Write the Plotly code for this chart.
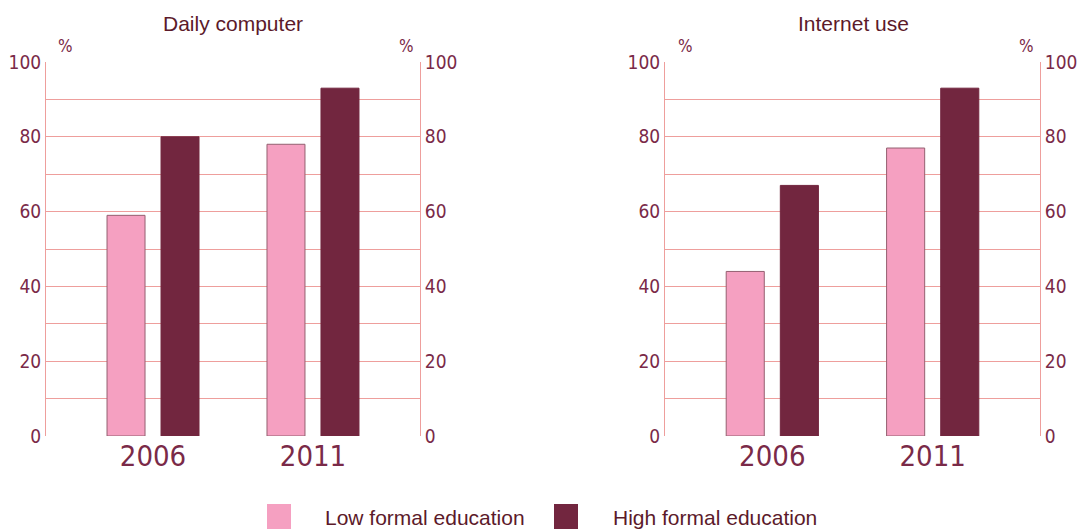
import plotly.graph_objects as go

years = ["2006", "2011"]
x_pos = [0, 1]
daily_low = [59, 78]
daily_high = [80, 93]
internet_low = [44, 77]
internet_high = [67, 93]
titles = ["Daily computer", "Internet use"]
series_names = ["Low formal education", "High formal education"]
y_ticks = [0, 20, 40, 60, 80, 100]

PINK = "#F5A0C1"
DARK = "#72263F"
GRID = "#EE9E9C"
TXT = "#7A2A48"
TITLE = "#5C1A2A"
NARROW = "Liberation Sans Narrow, DejaVu Sans Condensed, sans-serif"
SANS = "Arial, Liberation Sans, sans-serif"

fig = go.Figure()

def add_bars(xa, ya, low, high):
    fig.add_trace(go.Bar(x=x_pos, y=low, width=0.2375, offset=-0.2875,
                         marker=dict(color=PINK, line=dict(color="#946070", width=1)),
                         xaxis=xa, yaxis=ya, showlegend=False, name=series_names[0]))
    fig.add_trace(go.Bar(x=x_pos, y=high, width=0.2375, offset=0.05,
                         marker=dict(color=DARK, line=dict(color=DARK, width=1)),
                         xaxis=xa, yaxis=ya, showlegend=False, name=series_names[1]))

add_bars("x", "y", daily_low, daily_high)
add_bars("x2", "y3", internet_low, internet_high)
fig.add_trace(go.Scatter(x=[None], y=[None], xaxis="x", yaxis="y2", showlegend=False, hoverinfo="skip"))
fig.add_trace(go.Scatter(x=[None], y=[None], xaxis="x2", yaxis="y4", showlegend=False, hoverinfo="skip"))

dom_l = [46 / 1078, 420 / 1078]
dom_r = [665 / 1078, 1040 / 1078]
ydom = [1 - 436 / 529, 1 - 62 / 529]

xcommon = dict(range=[-0.669, 1.669], tickvals=x_pos, ticktext=years, showgrid=False,
               zeroline=False, showline=False, ticks="", automargin=False,
               tickfont=dict(family=NARROW, size=29, color=TXT), fixedrange=True)
ycommon = dict(range=[0, 100], tickvals=y_ticks, showgrid=True, gridcolor=GRID, gridwidth=1,
               minor=dict(dtick=10, showgrid=True, gridcolor=GRID, gridwidth=1),
               zeroline=False, showline=True, linecolor=GRID, linewidth=1, ticks="",
               automargin=False, tickfont=dict(family=NARROW, size=19, color=TXT))

fig.update_layout(
    width=1078, height=529, margin=dict(l=0, r=0, t=0, b=0, autoexpand=False),
    paper_bgcolor="white", plot_bgcolor="white", barmode="overlay",
    xaxis=dict(domain=dom_l, anchor="y", **xcommon),
    xaxis2=dict(domain=dom_r, anchor="y3", **xcommon),
    yaxis=dict(domain=ydom, anchor="x", side="left", **ycommon),
    yaxis2=dict(domain=ydom, anchor="x", overlaying="y", side="right", **ycommon),
    yaxis3=dict(domain=ydom, anchor="x2", side="left", **ycommon),
    yaxis4=dict(domain=ydom, anchor="x2", overlaying="y3", side="right", **ycommon),
)

ann = []
for t, cx in zip(titles, [233 / 1078, 853 / 1078]):
    ann.append(dict(text=t, x=cx, y=1 - 24 / 529, xref="paper", yref="paper", showarrow=False,
                    xanchor="center", yanchor="middle",
                    font=dict(family=SANS, size=21, color=TITLE)))
for px in [65, 406, 685, 1026]:
    ann.append(dict(text="%", x=px / 1078, y=1 - 46 / 529, xref="paper", yref="paper", showarrow=False,
                    xanchor="center", yanchor="middle",
                    font=dict(family=NARROW, size=17, color=TXT)))
shapes = []
for (x0, x1, col), (tx, name) in zip([(267, 291, PINK), (554, 578, DARK)],
                                     [(323, series_names[0]), (611, series_names[1])]):
    shapes.append(dict(type="rect", xref="paper", yref="paper", x0=x0 / 1078, x1=x1 / 1078,
                       y0=0, y1=1 - 504 / 529, fillcolor=col, line=dict(width=0)))
    ann.append(dict(text=name, x=tx / 1078, y=1 - 517 / 529, xref="paper", yref="paper",
                    xanchor="left", yanchor="middle", showarrow=False,
                    font=dict(family=SANS, size=21, color=TITLE)))
fig.update_layout(annotations=ann, shapes=shapes)

fig.write_html("out.html", config={"displayModeBar": False},
               post_script="document.body.style.margin='0';document.body.style.overflow='hidden';")
